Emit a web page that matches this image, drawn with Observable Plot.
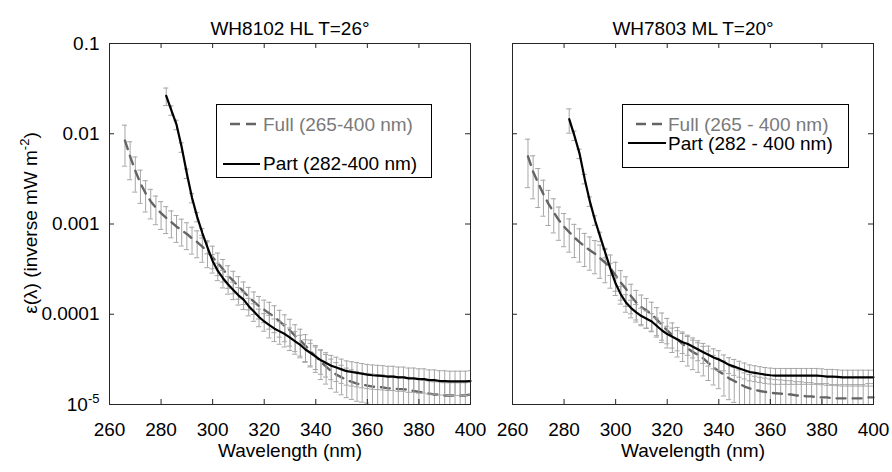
<!DOCTYPE html>
<html><head><meta charset="utf-8">
<script src="https://cdn.jsdelivr.net/npm/d3@7"></script>
<script src="https://cdn.jsdelivr.net/npm/@observablehq/plot@0.6"></script>
<style>
body{margin:0;background:#fff;}
#wrap{position:relative;width:892px;height:472px;font-family:Arial,"Liberation Sans",sans-serif;}
#wrap > svg{position:absolute;top:0;}
</style></head><body><div id="wrap"></div>
<script>
// ---- data ----
const fullWl = d3.range(266, 401, 2); // 266..400
const partWl = d3.range(282, 401, 2); // 282..400
const xTicks = [260, 280, 300, 320, 340, 360, 380, 400];
const yTicks = [1e-5, 1e-4, 1e-3, 1e-2, 1e-1];

const leftFull = [
  8.41e-3,5.62e-3,3.89e-3,2.82e-3,2.19e-3,1.78e-3,1.51e-3,1.32e-3,1.17e-3,1.05e-3,
  9.33e-4,8.51e-4,7.76e-4,6.92e-4,6.31e-4,5.62e-4,4.90e-4,4.27e-4,
  3.72e-4,3.16e-4,2.69e-4,2.34e-4,2.04e-4,1.78e-4,1.55e-4,1.38e-4,1.23e-4,1.12e-4,
  1.02e-4,9.33e-5,8.32e-5,7.41e-5,6.61e-5,5.75e-5,5.13e-5,4.47e-5,3.89e-5,3.39e-5,
  2.95e-5,2.63e-5,2.34e-5,2.14e-5,2.00e-5,1.86e-5,1.78e-5,1.70e-5,1.66e-5,1.62e-5,
  1.58e-5,1.55e-5,1.55e-5,1.51e-5,1.51e-5,1.48e-5,1.48e-5,1.45e-5,1.41e-5,1.38e-5,
  1.35e-5,1.32e-5,1.29e-5,1.29e-5,1.26e-5,1.26e-5,1.26e-5,1.26e-5,1.26e-5,1.29e-5];
const leftFullErr = [
  0.48,0.45,0.42,0.40,0.38,0.36,0.35,0.34,0.33,0.33,
  0.33,0.33,0.33,0.33,0.33,0.33,0.33,0.33,
  0.28,0.28,0.28,0.28,0.28,0.28,0.28,0.28,0.28,0.28,
  0.33,0.33,0.33,0.33,0.33,0.33,0.33,0.33,0.33,0.33,
  0.36,0.36,0.36,0.36,0.36,0.36,0.36,0.36,0.36,0.36,
  0.38,0.38,0.38,0.38,0.38,0.38,0.38,0.38,0.38,0.38,
  0.38,0.38,0.38,0.38,0.38,0.38,0.38,0.38,0.38,0.38];
const leftPart = [
  2.63e-2,1.82e-2,1.26e-2,7.08e-3,3.63e-3,1.95e-3,1.20e-3,7.94e-4,5.50e-4,3.89e-4,
  3.02e-4,2.51e-4,2.14e-4,1.86e-4,1.62e-4,1.45e-4,1.23e-4,1.07e-4,9.33e-5,8.32e-5,
  7.59e-5,6.92e-5,6.46e-5,6.03e-5,5.50e-5,5.01e-5,4.57e-5,4.07e-5,3.72e-5,3.39e-5,
  3.09e-5,2.88e-5,2.69e-5,2.57e-5,2.45e-5,2.34e-5,2.29e-5,2.24e-5,2.19e-5,2.14e-5,
  2.11e-5,2.09e-5,2.07e-5,2.04e-5,2.04e-5,2.00e-5,2.00e-5,1.95e-5,1.95e-5,1.91e-5,
  1.91e-5,1.86e-5,1.86e-5,1.82e-5,1.82e-5,1.80e-5,1.80e-5,1.80e-5,1.80e-5,1.82e-5];
const leftPartErr = [
  0.22,0.12,0.12,0.12,0.12,0.12,0.12,0.12,0.15,0.18,
  0.22,0.22,0.22,0.22,0.22,0.22,0.22,0.22,0.22,0.22,
  0.28,0.28,0.28,0.28,0.28,0.28,0.28,0.28,0.28,0.28,
  0.30,0.30,0.30,0.30,0.30,0.30,0.30,0.30,0.30,0.30,
  0.30,0.30,0.30,0.30,0.30,0.30,0.30,0.30,0.30,0.30,
  0.30,0.30,0.30,0.30,0.30,0.30,0.30,0.30,0.30,0.30];

const rightFull = [
  5.62e-3,3.80e-3,2.82e-3,2.14e-3,1.66e-3,1.35e-3,1.10e-3,9.33e-4,8.13e-4,7.08e-4,
  6.31e-4,5.62e-4,5.13e-4,4.68e-4,4.17e-4,3.72e-4,3.24e-4,2.69e-4,
  2.24e-4,1.91e-4,1.58e-4,1.35e-4,1.20e-4,1.10e-4,1.00e-4,8.71e-5,7.59e-5,6.61e-5,
  5.89e-5,5.25e-5,4.68e-5,4.17e-5,3.80e-5,3.55e-5,3.24e-5,2.88e-5,2.57e-5,2.34e-5,
  2.14e-5,1.95e-5,1.82e-5,1.70e-5,1.58e-5,1.51e-5,1.45e-5,1.41e-5,1.38e-5,1.35e-5,
  1.33e-5,1.32e-5,1.30e-5,1.29e-5,1.26e-5,1.26e-5,1.23e-5,1.23e-5,1.20e-5,1.20e-5,
  1.20e-5,1.17e-5,1.17e-5,1.17e-5,1.17e-5,1.17e-5,1.17e-5,1.17e-5,1.20e-5,1.20e-5];
const rightFullErr = [
  0.55,0.50,0.46,0.43,0.42,0.41,0.40,0.40,0.40,0.40,
  0.40,0.40,0.40,0.40,0.40,0.40,0.40,0.40,
  0.36,0.36,0.36,0.36,0.36,0.36,0.36,0.36,0.36,0.36,
  0.36,0.36,0.36,0.36,0.36,0.36,0.36,0.36,0.36,0.36,
  0.42,0.42,0.42,0.42,0.42,0.42,0.42,0.42,0.42,0.42,
  0.42,0.42,0.42,0.42,0.42,0.42,0.42,0.42,0.42,0.42,
  0.42,0.42,0.42,0.42,0.42,0.42,0.42,0.42,0.42,0.42];
const rightPart = [
  1.45e-2,9.55e-3,6.03e-3,3.16e-3,1.78e-3,1.10e-3,7.24e-4,4.79e-4,3.16e-4,2.19e-4,
  1.66e-4,1.35e-4,1.17e-4,1.05e-4,9.55e-5,8.91e-5,8.32e-5,7.41e-5,6.61e-5,6.03e-5,
  5.62e-5,5.25e-5,4.90e-5,4.68e-5,4.37e-5,4.07e-5,3.80e-5,3.55e-5,3.31e-5,3.16e-5,
  2.95e-5,2.75e-5,2.63e-5,2.51e-5,2.40e-5,2.29e-5,2.24e-5,2.19e-5,2.14e-5,2.11e-5,
  2.09e-5,2.09e-5,2.09e-5,2.09e-5,2.09e-5,2.09e-5,2.09e-5,2.09e-5,2.09e-5,2.07e-5,
  2.04e-5,2.04e-5,2.02e-5,2.00e-5,2.00e-5,2.00e-5,2.00e-5,2.00e-5,2.00e-5,2.00e-5];
const rightPartErr = [
  0.30,0.12,0.12,0.12,0.12,0.12,0.12,0.12,0.15,0.18,
  0.22,0.22,0.22,0.22,0.22,0.22,0.22,0.22,0.22,0.22,
  0.25,0.25,0.25,0.25,0.25,0.25,0.25,0.25,0.25,0.25,
  0.20,0.20,0.20,0.20,0.20,0.20,0.20,0.20,0.20,0.20,
  0.20,0.20,0.20,0.20,0.20,0.20,0.20,0.20,0.20,0.20,
  0.20,0.20,0.20,0.20,0.20,0.20,0.20,0.20,0.20,0.20];

const titles = ["WH8102 HL T=26°", "WH7803 ML T=20°"];
const legendLabels = [["Full (265-400 nm)", "Part (282-400 nm)"], ["Full (265 - 400 nm)", "Part (282 - 400 nm)"]];
const xLabel = "Wavelength (nm)";

// ---- drawing ----
const FONT = 'Arial, "Liberation Sans", sans-serif';
const AXIS = "#262626", BAR = "#a6a6a6", FULLC = "#646464";
const CAP = 1.0;
const W = 361, H = 361;
const wrap = document.getElementById("wrap");

function rows(wl, v, e) {
  return wl.map((x, i) => ({x, y: v[i], lo: v[i] * (1 - e[i]), hi: v[i] * (1 + e[i])}));
}
function bars(data) {
  return [
    Plot.ruleX(data, {x: "x", y1: "lo", y2: "hi", stroke: BAR, strokeWidth: 1, clip: true}),
    Plot.ruleY(data, {y: "hi", x1: d => d.x - CAP, x2: d => d.x + CAP, stroke: BAR, strokeWidth: 1, clip: true}),
    Plot.ruleY(data, {y: "lo", x1: d => d.x - CAP, x2: d => d.x + CAP, stroke: BAR, strokeWidth: 1, clip: true})
  ];
}

function panel({full, fullErr, part, partErr, title, left, ml, mr, showY}) {
  const fd = rows(fullWl, full, fullErr);
  const pd = rows(partWl, part, partErr);
  const svg = Plot.plot({
    width: ml + W + mr, height: 472,
    marginLeft: ml, marginRight: mr, marginTop: 43, marginBottom: 68,
    x: {domain: [260, 400], axis: null},
    y: {type: "log", domain: [1e-5, 0.1], axis: null},
    style: {fontFamily: FONT, fontSize: "19px", color: "#000", background: "transparent", overflow: "visible"},
    marks: [
      ...bars(fd),
      Plot.line(fd, {x: "x", y: "y", stroke: FULLC, strokeWidth: 2.4, strokeDasharray: "9,7"}),
      ...bars(pd),
      Plot.line(pd, {x: "x", y: "y", stroke: "#000", strokeWidth: 2.2}),
      Plot.frame({stroke: AXIS}),
      Plot.tickX(xTicks, {insetTop: H - 5, stroke: AXIS}),
      Plot.tickX(xTicks, {insetBottom: H - 5, stroke: AXIS}),
      Plot.tickY(yTicks, {insetRight: W - 5, stroke: AXIS}),
      Plot.tickY(yTicks, {insetLeft: W - 5, stroke: AXIS}),
      Plot.axisX({ticks: xTicks, tickSize: 0, tickPadding: 18, label: null, fontSize: 19}),
      showY ? Plot.axisY({ticks: yTicks, tickSize: 0, tickPadding: 10, label: null, fontSize: 19,
        tickFormat: d => d === 1e-5 ? "10" : String(d)}) : null,
      Plot.text([title], {frameAnchor: "top", dy: -22, fontSize: 19}),
      Plot.text([xLabel], {frameAnchor: "bottom", dy: 52, fontSize: 19})
    ]
  });
  svg.style.left = left + "px";
  const s = d3.select(svg);
  if (showY) {
    s.selectAll('g[aria-label="y-axis tick label"] text').each(function () {
      if (this.textContent === "10") {
        d3.select(this).append("tspan").attr("dy", -8).style("font-size", "13px").text("-5");
      }
    });
    const yl = s.append("text").attr("transform", "rotate(-90)").attr("x", -223).attr("y", 37)
      .attr("text-anchor", "middle").attr("fill", "#000").style("font-size", "19px").style("font-family", FONT);
    yl.append("tspan").text("ε(λ) (inverse mW m");
    yl.append("tspan").attr("dy", -8).style("font-size", "13px").text("-2");
    yl.append("tspan").attr("dy", 8).text(")");
  }
  wrap.appendChild(svg);
}

panel({full: leftFull, fullErr: leftFullErr, part: leftPart, partErr: leftPartErr, title: titles[0], left: 0, ml: 109, mr: 10, showY: true});
panel({full: rightFull, fullErr: rightFullErr, part: rightPart, partErr: rightPartErr, title: titles[1], left: 480, ml: 32, mr: 19, showY: false});

// legends
function legend(left, top, w, h, labels, r) {
  const g = d3.select(wrap).append("svg").attr("width", w + 2).attr("height", h + 2)
    .style("left", (left - 0.5) + "px").style("top", (top - 0.5) + "px").style("position", "absolute");
  g.append("rect").attr("x", 0.5).attr("y", 0.5).attr("width", w).attr("height", h).attr("fill", "#fff").attr("stroke", "#000");
  g.append("line").attr("x1", r.fx1).attr("x2", r.fx2).attr("y1", r.fy).attr("y2", r.fy)
    .attr("stroke", FULLC).attr("stroke-width", 2.4).attr("stroke-dasharray", "10,6");
  g.append("text").attr("x", r.tx).attr("y", r.fb).attr("fill", "#7a7a7a").style("font-size", "19px").style("font-family", FONT).text(labels[0]);
  g.append("line").attr("x1", r.px1).attr("x2", r.px2).attr("y1", r.py).attr("y2", r.py)
    .attr("stroke", "#000").attr("stroke-width", 2.2);
  g.append("text").attr("x", r.tx).attr("y", r.pb).attr("fill", "#000").style("font-size", "19px").style("font-family", FONT).text(labels[1]);
}
legend(216, 104, 215, 73, legendLabels[0], {fx1: 14, fx2: 42, fy: 20, fb: 27, px1: 7, px2: 44, py: 60, pb: 66, tx: 47});
legend(622, 104, 226, 63, legendLabels[1], {fx1: 14, fx2: 43, fy: 20, fb: 27, px1: 6, px2: 44, py: 39, pb: 46, tx: 46});
</script></body></html>
